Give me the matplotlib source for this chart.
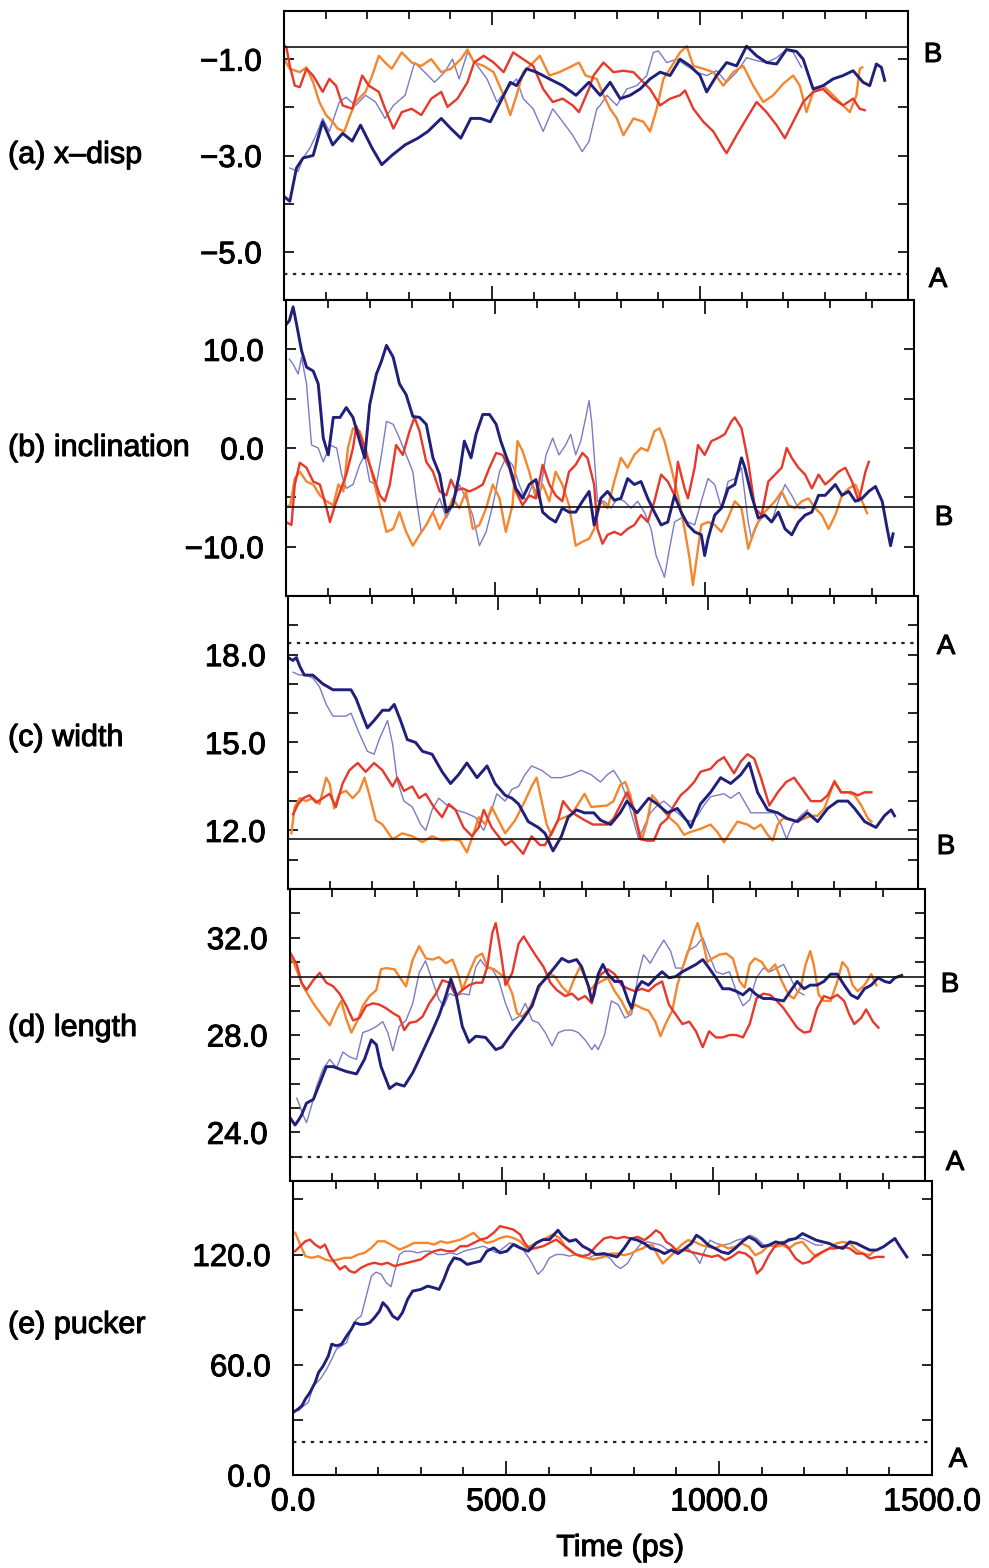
import matplotlib.pyplot as plt
import matplotlib.patheffects as pe
from matplotlib.ticker import MultipleLocator

plt.rcParams['font.family'] = ['Liberation Sans', 'DejaVu Sans']

# ---- (a) x-disp : (time ps, value) ----
a_navy = [(0,-3.85),(14,-3.95),(30,-3.26),(46,-3.05),(70,-3.0),(93,-2.3),(117,-2.78),(141,-2.54),(164,-2.7),(184,-2.37),
          (212,-2.85),(235,-3.19),(259,-3.0),(291,-2.78),(322,-2.64),(346,-2.5),(378,-2.23),(401,-2.44),(425,-2.64),(449,-2.23),
          (472,-2.23),(496,-2.3),(520,-1.89),(544,-1.48),(559,-1.55),(583,-1.2),(607,-1.27),(638,-1.41),(670,-1.55),(702,-1.75),
          (733,-1.48),(760,-1.75),(784,-1.48),(808,-1.82),(832,-1.75),(856,-1.62),(880,-1.41),(904,-1.27),(928,-1.34),(952,-1.0),
          (976,-1.14),(1000,-1.34),(1016,-1.68),(1040,-1.34),(1064,-1.07),(1088,-1.14),(1112,-0.73),(1136,-0.93),(1160,-1.07),(1184,-1.1),
          (1208,-0.8),(1232,-0.84),(1248,-1.0),(1272,-1.62),(1296,-1.55),(1320,-1.41),(1344,-1.34),(1368,-1.24),(1392,-1.48),(1408,-1.55),
          (1424,-1.1),(1436,-1.17),(1444,-1.44)]
a_purple = [(14,-3.26),(34,-3.33),(46,-3.05),(62,-2.85),(77,-2.58),(93,-2.23),(109,-2.5),(133,-1.89),(149,-1.79),(172,-1.96),
            (196,-1.75),(220,-1.89),(243,-2.23),(263,-1.96),(291,-1.75),(314,-1.07),(338,-1.27),(362,-1.48),(386,-1.27),(405,-1.0),
            (421,-1.41),(441,-0.86),(465,-1.14),(488,-1.41),(512,-1.89),(536,-1.62),(559,-1.41),(575,-1.82),(599,-2.03),(623,-2.5),
            (646,-2.03),(670,-2.3),(694,-2.58),(717,-2.92),(733,-2.71),(752,-2.03),(760,-1.96),(776,-1.75),(800,-1.96),(824,-1.62),
            (848,-1.55),(872,-1.34),(888,-0.86),(900,-0.83),(920,-1.07),(944,-1.0),(968,-1.14),(992,-1.27),(1016,-1.34),(1040,-1.24),
            (1064,-1.48),(1088,-1.27),(1112,-0.97),(1136,-1.03),(1160,-1.07),(1184,-0.97),(1208,-0.8),(1224,-0.86),(1244,-1.17)]
a_red = [(0,-0.7),(6,-0.76),(14,-1.14),(26,-1.55),(38,-1.58),(54,-1.2),(70,-1.34),(93,-1.68),(109,-1.41),(125,-1.55),
         (141,-1.96),(164,-2.03),(188,-1.34),(204,-1.55),(228,-1.68),(243,-2.03),(263,-2.44),(283,-2.1),(307,-2.03),(330,-2.16),
         (354,-1.82),(378,-1.68),(393,-1.99),(417,-1.82),(441,-1.48),(457,-1.07),(480,-0.93),(504,-1.07),(528,-1.27),(551,-0.86),
         (575,-1.0),(599,-1.14),(623,-1.62),(646,-1.89),(670,-1.82),(694,-1.96),(709,-2.1),(733,-1.62),(744,-1.34),(768,-1.07),
         (792,-1.27),(816,-1.24),(840,-1.27),(856,-1.41),(880,-1.62),(904,-1.96),(928,-1.82),(952,-1.75),(964,-1.65),(984,-2.03),
         (1008,-2.3),(1032,-2.5),(1056,-2.85),(1064,-2.95),(1088,-2.58),(1112,-2.23),(1136,-1.89),(1160,-2.1),(1184,-2.37),(1204,-2.64),
         (1224,-2.3),(1248,-1.89),(1272,-1.68),(1296,-1.62),(1320,-1.82),(1344,-1.96),(1368,-1.82),(1384,-2.03),(1396,-2.06)]
a_orange = [(0,-1.0),(14,-1.2),(38,-1.27),(54,-1.17),(70,-1.48),(85,-1.89),(101,-2.16),(117,-2.3),(129,-2.44),(145,-2.5),
            (156,-2.23),(172,-1.89),(196,-1.68),(212,-1.34),(228,-0.93),(243,-1.07),(259,-1.2),(283,-0.86),(307,-1.07),(330,-1.14),
            (354,-1.0),(378,-1.27),(401,-1.2),(425,-1.0),(441,-0.8),(457,-1.07),(480,-1.14),(504,-1.27),(528,-1.75),(544,-2.16),
            (559,-1.75),(575,-1.27),(591,-1.14),(615,-0.93),(638,-1.34),(662,-1.27),(686,-1.17),(709,-1.07),(725,-1.34),(752,-1.41),
            (768,-1.75),(784,-2.03),(800,-2.23),(816,-2.58),(840,-2.23),(864,-2.3),(880,-2.5),(896,-2.03),(912,-1.41),(928,-1.2),
            (952,-0.86),(968,-0.73),(984,-1.14),(1008,-1.2),(1032,-1.27),(1056,-1.55),(1080,-1.27),(1104,-1.14),(1128,-1.55),(1152,-1.89),
            (1176,-1.75),(1200,-1.51),(1224,-1.34),(1240,-1.55),(1256,-2.1),(1272,-1.68),(1296,-1.55),(1320,-1.75),(1344,-1.96),(1360,-2.1),
            (1376,-1.75),(1384,-1.2),(1390,-1.17)]

# ---- (b) inclination ----
b_navy = [(0,12.5),(8,12.9),(17,14.3),(25,12.6),(37,9.9),(49,8.2),(65,7.8),(77,6.5),(89,1.0),(101,-0.7),
          (113,3.1),(129,3.1),(144,4.1),(160,3.1),(176,0.7),(188,-1.0),(200,4.4),(216,7.5),(228,8.8),(240,10.4),
          (256,9.2),(271,6.5),(287,5.4),(303,3.2),(319,3.1),(335,2.4),(351,-1.0),(367,-2.7),(383,-6.5),(398,-5.8),
          (414,-2.7),(426,0.7),(442,-1.0),(454,1.4),(470,3.4),(486,3.4),(502,2.4),(513,0.7),(533,-1.7),(549,-4.1),
          (565,-5.1),(581,-3.7),(597,-3.2),(613,-6.5),(629,-7.1),(644,-7.5),(660,-6.1),(676,-6.5),(692,-6.5),(708,-5.4),
          (724,-4.4),(736,-7.8),(752,-5.1),(768,-4.4),(784,-5.3),(800,-5.1),(816,-3.1),(832,-3.7),(848,-3.4),(864,-5.1),
          (880,-6.5),(896,-7.8),(912,-7.5),(928,-4.8),(944,-6.5),(960,-7.8),(976,-8.5),(992,-8.8),(1000,-10.9),(1008,-9.2),
          (1024,-6.8),(1040,-6.1),(1056,-4.1),(1072,-3.7),(1088,-1.0),(1096,-2.0),(1112,-4.8),(1128,-7.1),(1144,-6.8),(1160,-7.5),
          (1176,-6.5),(1192,-8.2),(1208,-8.8),(1224,-7.5),(1240,-6.8),(1256,-6.5),(1272,-4.8),(1288,-4.8),(1312,-3.7),(1328,-4.8),
          (1344,-4.4),(1360,-5.4),(1376,-5.1),(1392,-4.4),(1408,-3.9),(1424,-5.4),(1436,-8.2),(1444,-9.9),(1450,-8.7)]
b_purple = [(8,9.0),(17,8.5),(29,7.5),(37,9.2),(49,6.5),(61,0.3),(77,0.0),(89,-1.4),(105,0.3),(121,0.0),
            (133,-2.7),(144,-4.1),(160,-3.7),(176,-1.7),(188,-0.7),(200,-3.4),(216,-3.7),(228,-0.7),(240,2.7),(256,2.4),
            (271,1.0),(287,-0.7),(303,-2.4),(311,-5.1),(323,-8.5),(335,-7.8),(351,-6.5),(367,-5.1),(383,-7.1),(398,-5.8),
            (414,-3.7),(430,-5.1),(446,-6.8),(462,-9.9),(478,-8.5),(494,-5.8),(510,-2.4),(525,-1.0),(541,-1.7),(557,-3.7),
            (573,-5.4),(589,-3.7),(605,-5.1),(621,-0.7),(637,1.0),(652,-0.7),(668,0.3),(680,1.4),(692,-0.7),(704,0.7),
            (716,3.1),(724,4.8),(730,2.7),(736,-0.7),(744,-5.4),(760,-5.4),(776,-6.1),(792,-5.1),(808,-5.4),(824,-6.1),
            (840,-5.4),(856,-6.5),(872,-8.2),(884,-10.9),(896,-12.2),(904,-13.1),(916,-10.2),(928,-7.5),(944,-7.1),(960,-7.5),
            (976,-7.8),(992,-5.4),(1008,-3.1),(1024,-3.7),(1040,-6.1),(1056,-3.4),(1072,-3.1),(1088,-2.0),(1104,-7.5),(1112,-9.2),
            (1128,-7.5),(1144,-6.8),(1160,-7.5),(1176,-5.4),(1192,-3.7),(1208,-4.8),(1224,-6.1),(1240,-6.1)]
b_red = [(0,-7.5),(13,-7.8),(21,-3.7),(33,-1.5),(49,-2.0),(65,-3.4),(81,-3.7),(97,-6.1),(105,-7.5),(117,-5.8),
         (129,-4.4),(144,-2.7),(160,0.0),(168,2.2),(180,1.0),(192,-0.7),(208,-2.7),(224,-4.8),(236,-5.4),(248,-3.7),
         (263,0.3),(279,-0.7),(295,1.7),(307,3.1),(319,1.7),(335,-1.4),(351,-2.4),(367,-4.4),(383,-4.8),(394,-3.2),
         (406,-4.3),(422,-4.1),(438,-4.4),(454,-4.1),(470,-3.7),(486,-2.0),(502,-0.5),(517,-0.7),(533,-2.0),(549,-4.4),
         (565,-5.8),(581,-4.8),(597,-5.1),(613,-1.7),(629,-3.7),(644,-4.8),(660,-5.4),(676,-2.4),(692,-1.7),(708,-0.5),
         (720,-1.0),(736,-3.7),(744,-8.2),(756,-9.7),(768,-8.8),(784,-8.5),(800,-8.8),(816,-8.2),(832,-7.8),(848,-6.8),
         (864,-7.5),(880,-5.4),(896,-2.7),(912,-3.4),(928,-4.8),(936,-1.4),(952,-4.1),(960,-5.1),(976,-2.0),(984,0.3),
         (1000,-0.7),(1016,0.7),(1032,1.0),(1048,1.4),(1064,2.7),(1072,3.1),(1088,2.0),(1104,-1.4),(1120,-6.1),(1136,-6.8),
         (1152,-3.4),(1168,-2.7),(1184,-2.0),(1196,0.0),(1208,-1.0),(1224,-2.0),(1240,-2.7),(1256,-4.1),(1272,-2.7),(1288,-3.7),
         (1304,-3.1),(1320,-2.4),(1336,-2.0),(1352,-3.4),(1368,-5.4),(1384,-2.4),(1392,-1.4)]
b_orange = [(0,-6.0),(10,-5.8),(21,-3.1),(33,-2.4),(49,-3.4),(65,-3.7),(81,-4.8),(97,-5.4),(113,-5.8),(125,-3.7),
            (137,-4.4),(148,0.0),(160,2.0),(176,1.7),(192,-0.3),(208,-3.1),(224,-5.8),(240,-8.5),(256,-8.2),(271,-6.5),
            (287,-8.5),(303,-9.9),(319,-8.8),(335,-7.8),(351,-6.5),(367,-8.2),(383,-6.8),(398,-5.1),(414,-6.1),(430,-4.4),
            (446,-8.2),(462,-7.8),(478,-6.1),(494,-3.7),(510,-5.1),(525,-8.5),(541,-5.8),(553,0.7),(565,-0.3),(581,-2.4),
            (597,-5.1),(613,-3.7),(629,-5.4),(644,-2.4),(660,-3.7),(676,-5.8),(692,-9.9),(708,-9.5),(724,-9.2),(736,-8.2),
            (752,-5.4),(768,-6.1),(784,-3.4),(800,-1.0),(816,-2.0),(832,-0.7),(848,0.0),(864,-0.3),(880,1.7),(892,2.0),
            (904,0.7),(920,-2.0),(936,-4.8),(952,-8.2),(964,-11.2),(972,-13.9),(984,-10.2),(992,-7.8),(1008,-7.5),(1024,-7.8),
            (1040,-8.5),(1056,-7.1),(1072,-5.4),(1088,-6.1),(1104,-10.2),(1120,-8.2),(1136,-6.8),(1152,-6.1),(1168,-5.4),(1184,-4.4),
            (1200,-5.8),(1216,-6.1),(1232,-5.4),(1248,-5.1),(1264,-6.1),(1280,-6.8),(1296,-8.2),(1312,-6.8),(1328,-4.8),(1344,-4.1),
            (1360,-3.7),(1376,-5.4),(1388,-6.6)]

# ---- (c) width ----
c_navy = [(0,17.9),(12,17.8),(20,17.9),(28,17.6),(39,17.3),(59,17.3),(83,17.0),(107,16.8),(130,16.8),(150,16.8),
          (162,16.5),(178,15.9),(189,15.5),(205,15.75),(225,16.1),(241,16.1),(253,16.3),(268,15.75),(284,15.1),(304,15.0),
          (320,14.7),(343,14.6),(367,14.0),(387,13.6),(406,13.9),(426,14.3),(450,13.8),(474,14.2),(493,13.6),(517,13.2),
          (533,13.1),(549,12.9),(572,12.3),(596,12.1),(612,11.9),(631,11.3),(651,11.8),(667,12.45),(687,12.7),(706,12.6),
          (728,12.6),(744,12.35),(768,12.2),(791,12.6),(807,13.0),(831,12.6),(859,13.1),(879,12.9),(903,12.6),(927,12.75),
          (951,12.3),(959,12.1),(982,12.9),(1006,13.3),(1030,13.8),(1054,13.6),(1078,13.9),(1098,14.3),(1118,13.3),(1142,12.7),
          (1166,12.6),(1189,12.4),(1213,12.3),(1237,12.6),(1261,12.3),(1285,12.75),(1309,13.0),(1333,13.0),(1349,12.75),(1373,12.3),
          (1400,12.1),(1420,12.5),(1436,12.7),(1444,12.5)]
c_purple = [(12,17.4),(28,17.3),(43,17.3),(59,17.2),(75,16.9),(91,16.3),(107,15.9),(122,15.9),(138,15.9),(150,16.0),
            (170,15.3),(189,14.7),(205,14.6),(217,15.1),(237,15.75),(249,14.95),(260,13.7),(276,13.0),(296,12.8),(316,12.2),
            (328,12.0),(343,12.7),(359,13.1),(375,12.9),(399,12.7),(422,12.6),(446,12.45),(466,12.0),(485,12.7),(497,13.25),
            (517,13.0),(533,13.4),(549,13.5),(564,13.9),(580,14.2),(604,14.05),(627,13.8),(651,13.8),(675,13.9),(698,14.05),
            (722,13.9),(744,13.65),(760,13.9),(775,14.05),(791,13.7),(807,13.1),(823,12.3),(835,11.7),(847,12.1),(863,12.6),
            (879,12.85),(895,13.0),(911,12.8),(927,12.6),(943,12.4),(959,12.3),(975,12.5),(990,12.85),(1006,13.15),(1022,13.2),
            (1038,13.25),(1054,13.1),(1074,13.3),(1086,13.0),(1102,12.6),(1118,12.6),(1142,12.6),(1158,12.6),(1174,12.2),(1187,11.7),
            (1201,12.2),(1221,12.5),(1237,12.7)]
c_red = [(12,12.55),(24,12.9),(36,13.1),(51,13.2),(67,12.95),(83,13.1),(99,13.25),(114,12.8),(130,13.6),(146,14.05),
         (166,14.3),(185,14.0),(205,14.3),(225,14.05),(249,13.5),(260,13.8),(276,13.35),(296,13.5),(312,13.1),(328,13.25),
         (347,12.8),(367,12.45),(383,12.9),(399,12.7),(418,12.1),(438,11.8),(454,12.1),(466,12.7),(485,12.1),(501,11.8),
         (517,11.5),(533,11.65),(560,11.2),(580,11.8),(600,11.5),(612,11.5),(627,11.9),(643,12.35),(655,13.0),(671,12.7),
         (683,12.55),(706,12.35),(726,12.2),(760,12.2),(775,12.4),(791,12.85),(807,13.3),(823,12.75),(839,11.7),(855,11.65),
         (871,11.65),(887,12.2),(903,12.4),(919,12.85),(935,13.2),(951,13.4),(967,13.65),(982,14.0),(1006,14.1),(1022,14.35),
         (1038,14.5),(1062,13.95),(1078,14.35),(1094,14.6),(1110,14.45),(1126,13.8),(1146,12.85),(1166,13.3),(1186,13.65),(1205,13.8),
         (1225,13.4),(1245,13.0),(1269,13.0),(1285,13.2),(1301,13.65),(1317,13.3),(1341,13.3),(1357,13.2),(1373,13.3),(1389,13.3)]
c_orange = [(8,11.9),(16,12.8),(28,13.1),(43,13.0),(59,13.1),(75,12.9),(91,13.8),(99,13.6),(110,12.75),(122,13.25),
            (138,13.35),(154,13.1),(170,13.35),(182,13.8),(193,13.25),(209,12.35),(225,12.2),(249,11.7),(272,11.9),(296,11.8),
            (320,11.6),(343,11.8),(367,11.65),(391,11.7),(410,11.65),(426,11.25),(442,11.9),(454,12.45),(470,12.2),(485,12.8),
            (501,12.35),(517,11.9),(541,12.35),(564,13.0),(580,13.5),(592,13.8),(604,13.0),(616,12.2),(627,11.85),(643,12.35),
            (659,12.45),(675,12.55),(691,12.9),(706,13.25),(722,12.8),(760,12.85),(775,13.0),(791,13.55),(803,13.65),(815,13.2),
            (831,12.2),(843,11.7),(855,12.3),(867,13.2),(879,13.0),(895,12.65),(911,12.4),(927,12.2),(943,11.85),(959,11.95),
            (982,12.05),(1006,12.2),(1022,11.95),(1038,11.6),(1054,11.95),(1070,12.3),(1094,12.2),(1110,12.05),(1126,12.2),(1142,11.85),
            (1154,11.65),(1166,12.2),(1178,12.4),(1193,12.4),(1213,12.3),(1229,12.4),(1245,12.5),(1261,12.5),(1277,12.75),(1289,13.2),
            (1301,13.7),(1317,13.3),(1333,13.3),(1349,13.2),(1365,12.85),(1381,12.4),(1389,12.3)]

# ---- (d) length ----
d_navy = [(0,24.6),(12,24.3),(20,24.5),(27,24.7),(39,25.2),(55,25.35),(70,26.0),(86,26.7),(102,26.7),(117,26.6),
          (133,26.5),(157,26.4),(176,27.0),(192,27.8),(204,27.6),(215,26.7),(235,25.8),(251,26.0),(270,25.9),(290,26.45),
          (301,26.85),(321,27.6),(337,28.2),(352,28.8),(368,29.6),(380,30.3),(392,29.7),(407,28.35),(423,27.7),(439,27.95),
          (462,27.9),(486,27.4),(501,27.5),(525,28.1),(548,28.6),(572,29.2),(587,30.0),(603,30.3),(626,30.8),(642,31.15),
          (658,31.0),(677,31.1),(689,30.8),(705,30.0),(713,29.4),(718,29.65),(728,30.5),(739,30.9),(751,30.5),(767,30.2),
          (783,30.2),(799,29.4),(807,29.1),(819,29.9),(831,30.2),(847,30.05),(863,30.35),(879,30.6),(895,30.35),(911,30.4),
          (927,30.6),(943,30.75),(959,30.9),(975,31.1),(990,30.75),(1006,30.35),(1022,29.9),(1038,29.9),(1054,29.8),(1070,29.65),
          (1086,29.9),(1102,29.65),(1118,29.5),(1134,29.5),(1150,29.45),(1166,29.4),(1182,29.8),(1198,30.2),(1214,29.9),(1229,30.05),
          (1245,30.05),(1261,30.2),(1277,30.5),(1293,30.5),(1309,30.05),(1325,29.65),(1341,29.5),(1357,29.9),(1373,30.05),(1389,30.35),
          (1405,30.2),(1417,30.15),(1429,30.35),(1445,30.45)]
d_purple = [(16,25.4),(23,25.1),(31,24.7),(39,24.4),(51,25.1),(63,25.9),(78,26.6),(94,27.0),(110,26.65),(125,27.3),
            (141,27.1),(157,27.0),(172,28.1),(188,28.2),(204,28.35),(219,28.55),(231,28.1),(243,27.35),(258,28.35),(274,28.6),
            (290,29.3),(305,30.55),(320,31.05),(333,30.4),(352,29.45),(364,29.2),(376,29.7),(392,29.6),(407,29.7),(423,29.65),
            (439,30.8),(450,31.1),(462,30.8),(478,30.7),(493,30.25),(509,29.3),(525,28.6),(540,28.75),(556,29.3),(572,28.6),
            (587,28.5),(603,28.1),(619,27.55),(634,28.1),(650,28.2),(666,28.2),(681,28.1),(697,27.8),(713,27.4),(720,27.6),
            (728,27.4),(743,28.0),(759,29.4),(775,29.25),(791,28.7),(807,28.85),(823,30.5),(835,31.3),(851,30.95),(867,31.45),
            (883,31.9),(899,31.45),(911,30.75),(927,30.75),(939,31.45),(959,31.65),(975,32.0),(990,31.3),(1006,30.6),(1022,30.5),
            (1038,30.6),(1054,29.8),(1070,29.2),(1086,29.45),(1102,30.35),(1118,30.75),(1134,30.6),(1150,30.75),(1166,30.9),(1182,30.35),
            (1198,29.8),(1214,29.65)]
d_red = [(0,31.4),(8,31.15),(16,30.9),(27,30.15),(39,29.85),(55,30.25),(70,30.55),(86,30.15),(102,30.0),(117,29.7),
         (133,29.2),(149,28.6),(164,28.7),(180,29.2),(196,29.3),(211,29.25),(227,29.1),(243,28.9),(258,28.75),(270,28.2),
         (282,28.5),(298,28.55),(313,28.75),(329,29.3),(345,29.7),(360,30.25),(376,30.15),(392,29.6),(407,29.85),(423,30.05),
         (439,30.15),(454,30.15),(466,30.8),(478,32.2),(486,32.6),(497,31.5),(509,30.05),(525,30.55),(540,31.75),(552,32.05),
         (568,31.6),(583,31.2),(599,30.8),(615,30.15),(630,29.85),(650,29.6),(666,29.7),(681,29.45),(697,29.6),(713,29.3),
         (720,30.05),(735,30.5),(751,30.7),(767,30.5),(783,30.05),(799,29.9),(815,29.8),(831,29.9),(847,29.8),(863,30.05),
         (879,30.2),(895,29.25),(911,28.85),(927,28.45),(943,28.55),(959,28.15),(975,27.5),(990,28.15),(1006,27.9),(1022,27.9),
         (1038,28.0),(1054,28.0),(1070,27.9),(1086,28.45),(1102,29.5),(1118,29.7),(1134,29.65),(1150,29.4),(1166,29.1),(1182,28.7),
         (1198,28.3),(1214,28.1),(1229,28.15),(1245,29.1),(1261,29.6),(1277,29.5),(1293,29.65),(1309,29.4),(1321,28.85),(1333,28.45),
         (1349,28.7),(1361,29.05),(1377,28.55),(1390,28.3)]
d_orange = [(0,31.2),(8,31.0),(31,30.0),(55,29.3),(78,28.75),(94,28.4),(110,29.05),(121,29.4),(133,28.65),(145,28.1),
            (161,28.65),(172,29.2),(188,29.6),(204,29.85),(215,30.7),(227,30.75),(247,30.7),(258,30.4),(274,30.0),(290,31.1),
            (305,31.65),(321,31.15),(337,31.1),(352,31.2),(368,30.95),(384,31.1),(399,30.4),(407,29.85),(423,30.55),(439,31.2),
            (454,31.35),(466,30.8),(482,30.7),(493,30.55),(509,30.35),(525,29.7),(536,28.9),(548,28.75),(564,29.05),(579,29.6),
            (595,30.15),(611,30.55),(626,30.4),(642,30.0),(658,29.7),(670,30.25),(685,30.8),(697,30.4),(709,29.85),(720,30.05),
            (735,30.2),(751,30.35),(767,29.8),(783,29.4),(799,28.85),(815,29.25),(831,29.1),(847,29.0),(863,28.55),(875,27.95),
            (887,28.45),(903,29.0),(915,30.05),(927,30.75),(943,31.55),(955,32.25),(963,32.6),(975,31.85),(986,31.0),(998,31.15),
            (1014,31.3),(1030,31.35),(1046,31.15),(1062,30.2),(1074,29.95),(1086,30.9),(1098,31.15),(1114,31.0),(1130,30.6),(1146,30.9),
            (1162,30.2),(1178,29.65),(1190,29.5),(1206,29.95),(1218,30.9),(1229,31.45),(1237,30.9),(1249,29.65),(1261,29.4),(1277,29.4),
            (1293,30.2),(1305,31.0),(1317,30.75),(1329,30.05),(1341,29.8),(1357,30.05),(1373,30.5),(1385,30.05)]

# ---- (e) pucker ----
e_navy = [(0,34.0),(12,35.9),(21,37.7),(29,41.3),(40,45.0),(52,50.4),(60,55.8),(71,59.4),(83,64.8),(91,71.2),
          (102,70.3),(114,71.2),(126,75.7),(137,79.3),(145,82.9),(157,82.0),(168,82.0),(180,82.9),(191,85.6),(203,89.2),
          (211,93.8),(222,91.1),(234,86.5),(246,84.7),(257,88.4),(269,95.6),(281,100.1),(300,101.0),(316,102.8),(331,101.9),
          (343,101.0),(354,106.4),(366,113.7),(378,118.2),(393,117.3),(409,114.6),(424,115.5),(440,116.4),(455,121.8),(471,123.6),
          (486,120.9),(502,121.8),(517,125.4),(533,123.6),(552,121.8),(571,126.3),(587,128.1),(602,128.1),(622,133.2),(633,129.9),
          (649,127.2),(664,128.1),(680,124.5),(695,122.7),(711,120.0),(730,120.5),(745,119.6),(761,118.7),(777,123.3),(793,128.7),
          (809,127.8),(825,126.0),(840,123.3),(856,122.4),(872,120.5),(888,122.4),(904,120.5),(920,123.3),(935,126.0),(947,130.5),
          (959,128.7),(975,125.1),(991,123.3),(1006,121.4),(1022,120.5),(1038,123.3),(1054,126.9),(1070,129.6),(1085,127.8),(1101,124.2),
          (1117,125.1),(1133,126.9),(1149,126.0),(1164,127.8),(1180,128.7),(1196,131.4),(1212,129.6),(1228,127.8),(1243,126.9),(1259,126.0),
          (1275,124.2),(1291,123.3),(1307,126.9),(1323,126.0),(1338,124.2),(1354,122.4),(1370,122.4),(1386,124.2),(1402,126.9),(1413,128.7),
          (1425,124.2),(1441,118.7)]
e_purple = [(13,35.0),(25,37.7),(36,39.5),(48,48.6),(64,52.2),(79,57.6),(91,63.0),(102,68.5),(114,70.3),(126,72.1),
            (137,79.3),(149,84.7),(160,86.5),(172,97.4),(184,108.2),(195,110.4),(207,109.2),(219,104.6),(230,102.5),(238,110.1),
            (250,120.0),(261,121.8),(277,121.8),(292,120.9),(308,121.8),(323,121.8),(339,120.0),(354,120.0),(370,120.9),(385,120.0),
            (401,121.8),(416,122.7),(432,123.6),(447,124.5),(463,122.7),(478,120.9),(494,123.6),(509,126.3),(525,125.4),(540,122.7),
            (556,117.3),(575,109.2),(587,111.9),(602,118.2),(618,120.0),(633,120.0),(649,119.1),(664,120.0),(680,119.1),(695,118.2),
            (711,120.0),(730,119.6),(745,117.8),(757,114.2),(769,112.4),(785,115.1),(801,121.4),(817,126.0),(833,126.9),(848,126.0),
            (864,125.1),(880,122.4),(896,123.3),(911,122.4),(927,123.3),(943,119.6),(955,115.1),(967,122.4),(979,127.8),(994,126.0),
            (1010,125.1),(1026,126.0),(1042,127.8),(1058,128.7),(1074,130.5),(1089,128.7),(1105,125.1),(1117,124.2),(1133,126.9),(1149,126.0),
            (1164,128.7),(1180,128.7),(1196,128.7),(1212,126.9),(1228,125.1),(1243,125.1)]
e_red = [(5,121.8),(17,124.5),(29,127.2),(40,128.1),(52,125.4),(64,123.6),(75,125.4),(87,119.1),(98,115.5),(110,111.9),
         (122,113.7),(133,111.0),(145,110.1),(160,112.8),(176,114.6),(191,115.5),(207,114.6),(222,115.5),(238,113.7),(253,114.6),
         (269,115.5),(284,116.4),(300,117.3),(316,120.0),(331,121.8),(347,122.7),(362,121.8),(378,121.8),(393,124.5),(409,124.5),
         (424,126.3),(440,128.1),(455,129.0),(471,131.8),(486,135.4),(502,134.5),(517,133.6),(533,130.9),(544,126.3),(556,122.7),
         (571,123.6),(587,124.5),(602,126.3),(618,128.1),(633,125.4),(649,122.7),(664,120.0),(680,119.1),(695,120.0),(711,124.5),
         (730,128.7),(745,129.6),(761,128.7),(777,129.6),(793,128.7),(809,129.6),(825,127.8),(840,130.5),(852,133.2),(864,131.4),
         (876,126.9),(888,125.1),(904,121.4),(920,122.4),(935,121.4),(951,120.5),(967,119.6),(983,118.7),(998,119.6),(1014,116.9),
         (1030,118.7),(1046,121.4),(1062,120.5),(1077,117.8),(1089,109.7),(1101,112.4),(1117,119.6),(1133,125.1),(1149,126.9),(1164,123.3),
         (1180,117.8),(1196,115.1),(1212,116.0),(1228,119.6),(1243,121.4),(1259,123.3),(1275,123.3),(1291,124.2),(1307,123.3),(1323,120.5),
         (1338,120.5),(1354,117.8),(1370,118.7),(1386,118.7)]
e_orange = [(5,131.8),(17,125.4),(29,119.1),(44,118.2),(60,119.1),(75,117.3),(91,116.4),(106,117.3),(122,118.2),(137,118.2),
            (153,120.0),(168,120.9),(184,123.6),(199,127.2),(215,127.2),(230,125.4),(250,122.7),(269,124.5),(284,126.3),(300,126.3),
            (316,126.3),(331,125.4),(347,127.2),(362,126.3),(378,127.2),(393,128.1),(409,129.9),(424,131.8),(440,128.1),(455,126.3),
            (471,127.2),(486,129.0),(502,129.9),(517,129.0),(533,127.2),(548,123.6),(564,125.4),(579,127.2),(595,129.0),(610,130.9),
            (626,129.0),(641,123.6),(657,120.9),(672,119.1),(688,118.2),(703,117.3),(730,118.7),(745,120.5),(761,120.5),(777,119.6),
            (793,120.5),(809,122.4),(821,123.3),(833,125.1),(844,125.1),(856,119.6),(868,115.1),(880,117.8),(896,121.4),(911,125.1),
            (927,127.8),(943,126.9),(959,125.1),(975,124.2),(991,123.3),(1006,125.1),(1022,123.3),(1038,124.2),(1054,126.0),(1070,124.2),
            (1085,119.6),(1101,121.4),(1117,125.1),(1133,124.2),(1149,125.1),(1164,123.3),(1180,126.0),(1196,126.9),(1212,122.4),(1228,118.7),
            (1243,121.4),(1259,123.3),(1275,126.0),(1291,126.9),(1307,126.0),(1323,122.4),(1338,120.5),(1354,119.6),(1366,122.4)]

# reference structures (B solid, A dotted), None where absent
ref_B = [-0.75, -6.0, 11.7, 30.4, None]
ref_A = [-5.45, None, 18.4, 23.0, 18.0]

panel_names = ['(a) x\u2013disp', '(b) inclination', '(c) width', '(d) length', '(e) pucker']
ylims = [(-6, 0), (-15, 15), (10, 20), (22, 34), (0, 160)]
yticks_major = [[-1, -3, -5], [10, 0, -10], [18, 15, 12], [32, 28, 24], [120, 60, 0]]
yticks_labels = [['\u22121.0', '\u22123.0', '\u22125.0'], ['10.0', '0.0', '\u221210.0'],
                 ['18.0', '15.0', '12.0'], ['32.0', '28.0', '24.0'], ['120.0', '60.0', '0.0']]
yminor_step = [1, 5, 1, 1, 30]
series = [(a_navy, a_purple, a_red, a_orange),
          (b_navy, b_purple, b_red, b_orange),
          (c_navy, c_purple, c_red, c_orange),
          (d_navy, d_purple, d_red, d_orange),
          (e_navy, e_purple, e_red, e_orange)]

# pixel boxes of the (slightly skewed) scanned panels: left, top, right, bottom
W, H = 989, 1568
boxes = [(284, 11, 908, 300), (286, 300, 914, 596), (288, 596, 918, 889),
         (290, 889, 925, 1181), (293, 1181, 932, 1475)]
label_y = [155, 448, 738, 1028, 1325]
AB_text = [[('B', 933, 55), ('A', 938, 280)], [('B', 944, 518)],
           [('A', 946, 647), ('B', 946, 847)], [('B', 950, 985), ('A', 955, 1163)],
           [('A', 958, 1460)]]

col_navy = '#20207a'
col_purple = '#7b7bc6'
col_red = '#e8382a'
col_orange = '#f5862e'

# scanned print looks a bit heavier than regular weight
heavy = [pe.withStroke(linewidth=0.7, foreground='black')]

fig = plt.figure(figsize=(W / 100, H / 100), dpi=100)

for i in range(5):
    l, t, r, b = boxes[i]
    ax = fig.add_axes([l / W, 1 - b / H, (r - l) / W, (b - t) / H])
    navy, purple, red, orange = series[i]
    for pts, c, lw in [(purple, col_purple, 1.0), (orange, col_orange, 1.7),
                       (red, col_red, 1.7), (navy, col_navy, 2.1)]:
        ax.plot([p[0] for p in pts], [p[1] for p in pts], color=c, lw=lw, solid_joinstyle='round')
    if ref_B[i] is not None:
        ax.axhline(ref_B[i], color='#111111', lw=1.2)
    if ref_A[i] is not None:
        ax.axhline(ref_A[i], color='#222222', lw=1.6, linestyle=(0, (1.5, 2.5)))

    ax.set_xlim(0, 1500)
    ax.set_ylim(*ylims[i])
    ax.xaxis.set_major_locator(MultipleLocator(500))
    ax.xaxis.set_minor_locator(MultipleLocator(100))
    ax.set_yticks(yticks_major[i])
    ax.set_yticklabels(yticks_labels[i])
    ax.yaxis.set_minor_locator(MultipleLocator(yminor_step[i]))
    ax.tick_params(axis='both', which='both', direction='in', top=True, right=True, width=1.2)
    ax.tick_params(axis='x', which='major', length=10)
    ax.tick_params(axis='x', which='minor', length=6)
    ax.tick_params(axis='y', which='both', length=7)
    ax.tick_params(axis='y', labelsize=22.5, pad=16)
    if i < 4:
        ax.tick_params(axis='x', labelbottom=False)
    else:
        ax.set_xticks([0, 500, 1000, 1500])
        ax.set_xticklabels(['0.0', '500.0', '1000.0', '1500.0'])
        ax.tick_params(axis='x', labelsize=23, pad=9)
    for lab in ax.get_xticklabels() + ax.get_yticklabels():
        lab.set_path_effects(heavy)
    for s in ax.spines.values():
        s.set_linewidth(1.5)

    fig.text(8 / W, 1 - label_y[i] / H, panel_names[i], ha='left', va='center',
             fontsize=22, path_effects=heavy)
    for txt, px, py in AB_text[i]:
        fig.text(px / W, 1 - py / H, txt, ha='center', va='center', fontsize=20, path_effects=heavy)

fig.text(620 / W, 1 - 1548 / H, 'Time (ps)', ha='center', va='center', fontsize=22, path_effects=heavy)

fig.savefig('out.png', dpi=100)
